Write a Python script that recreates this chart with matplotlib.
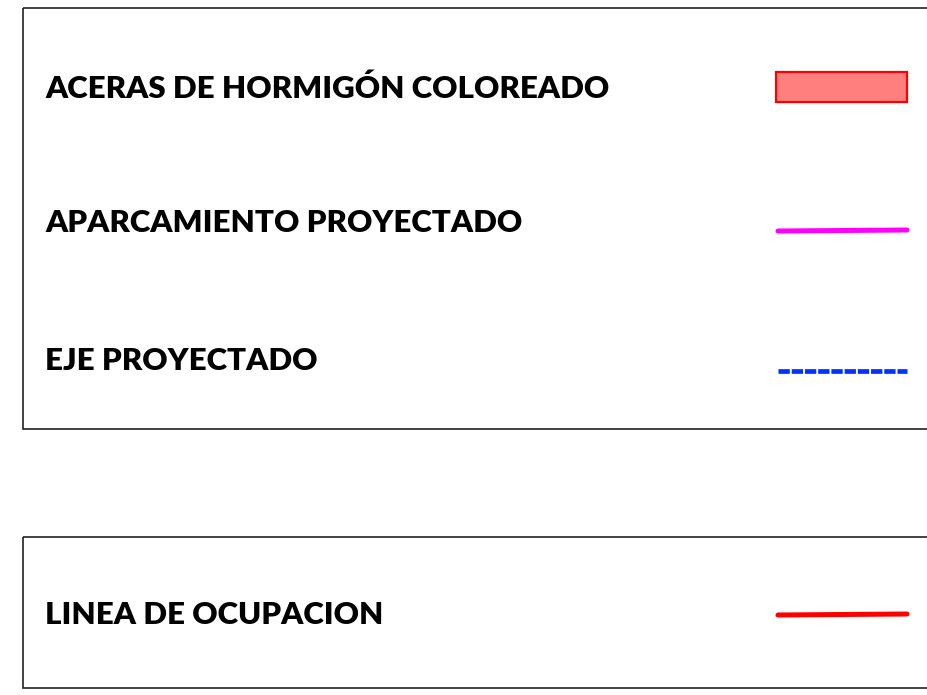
import matplotlib.pyplot as plt
from matplotlib.patches import Rectangle

# legend entries
labels = [
    "ACERAS DE HORMIGÓN COLOREADO",
    "APARCAMIENTO PROYECTADO",
    "EJE PROYECTADO",
    "LINEA DE OCUPACION",
]
kinds = ["patch", "line", "dashed", "line"]
colors = ["#ff0000", "#ff00ff", "#0033ff", "#ff0000"]

# layout in pixel units
row_y = [89, 223, 361, 615]
boxes = [(23, 8, 930, 429), (23, 537, 930, 688)]

fig = plt.figure(figsize=(9.27, 6.95), dpi=100)
ax = fig.add_axes([0, 0, 1, 1])
ax.set_xlim(0, 927)
ax.set_ylim(695, 0)
ax.axis("off")

for x0, y0, x1, y1 in boxes:
    ax.add_patch(Rectangle((x0, y0), x1 - x0, y1 - y0, fill=False,
                           edgecolor="#222222", linewidth=1.2))

for lab, kind, c, y in zip(labels, kinds, colors, row_y):
    ax.text(45, y, lab, fontsize=22.5, fontfamily="Lato", fontweight="heavy",
            ha="left", va="center", color="black")
    if kind == "patch":
        ax.add_patch(Rectangle((776, y - 17), 131, 30, facecolor="#ff7f7f",
                               edgecolor=c, linewidth=1.6))
    elif kind == "dashed":
        ax.plot([778, 907], [y + 10, y + 10], color=c, linewidth=3.4,
                linestyle=(0, (2.4, 0.4)))
    else:
        ax.plot([778, 907], [y + 8 if y < 300 else y, y + 7 if y < 300 else y - 1],
                color=c, linewidth=3.6, solid_capstyle="round")

fig.savefig("out.png", dpi=100)
